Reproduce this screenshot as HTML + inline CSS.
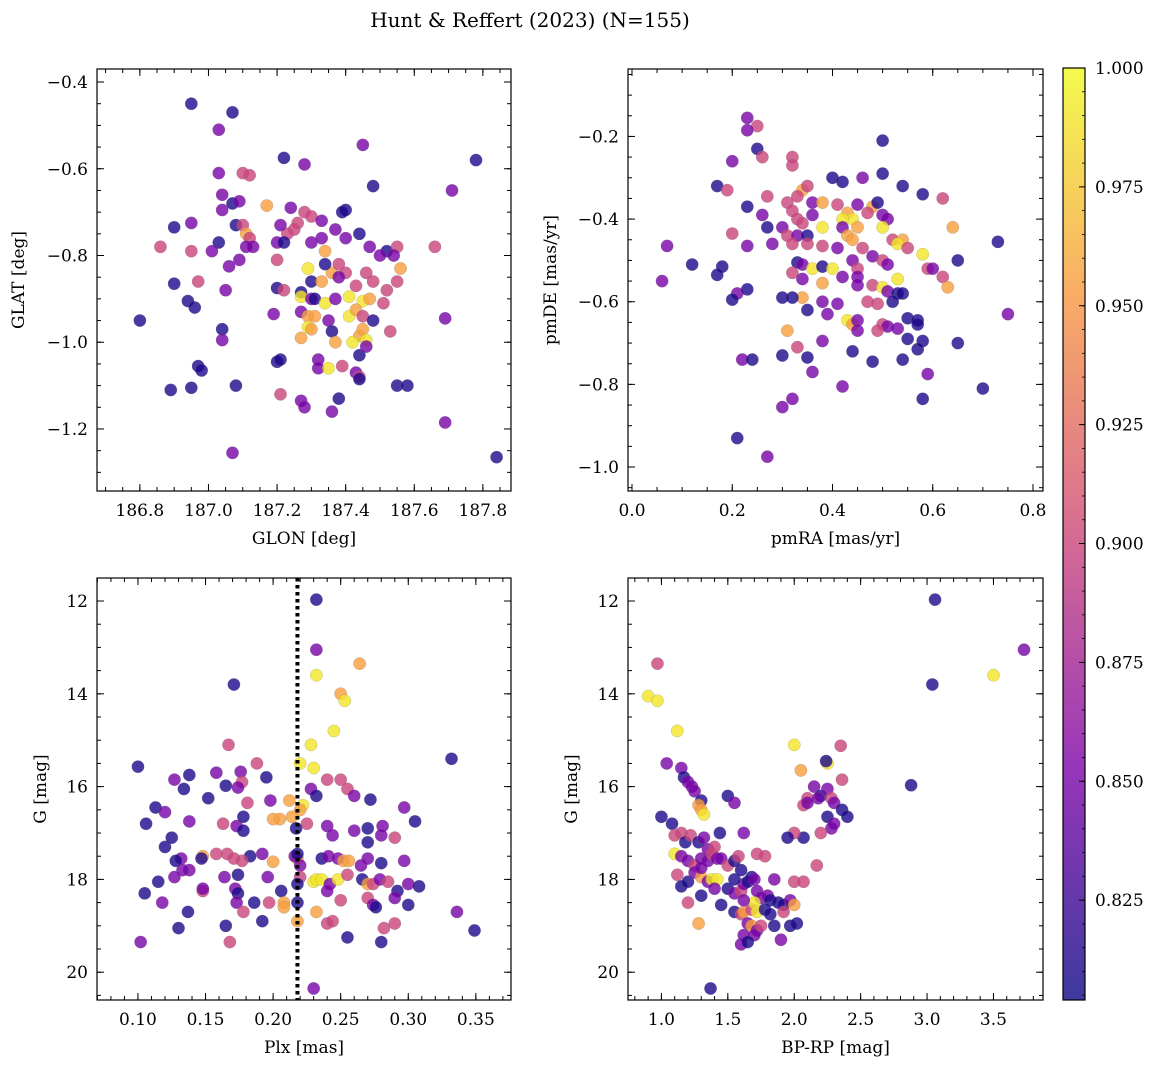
<!DOCTYPE html>
<html><head><meta charset="utf-8">
<style>
html,body{margin:0;padding:0;background:#fff;}
svg{display:block;font-family:"DejaVu Serif","Liberation Serif",serif;}
</style></head>
<body>
<svg id="fig" width="1160" height="1068" viewBox="0 0 1160 1068">
<text x="530" y="27" font-size="20" text-anchor="middle">Hunt &amp; Reffert (2023) (N=155)</text>
</svg>
<script>
const D=0.81,P=0.85,M=0.9,O=0.955,Y=0.99;
const cbMin=0.804, cbMax=1.0;
const cbTicks=[0.825,0.850,0.875,0.900,0.925,0.950,0.975,1.000];
const glonGlat=[[186.95,-0.45,D],[187.07,-0.47,D],[187.03,-0.51,P],[187.45,-0.545,P],[187.22,-0.575,D],[187.28,-0.59,P],[187.78,-0.58,D],[187.03,-0.61,P],[187.1,-0.61,M],[187.12,-0.615,M],[187.48,-0.64,D],[187.71,-0.65,P],[187.04,-0.66,P],[187.04,-0.695,P],[187.07,-0.68,D],[187.09,-0.675,P],[186.95,-0.725,P],[186.9,-0.735,D],[187.08,-0.73,D],[187.1,-0.73,M],[187.17,-0.685,O],[187.24,-0.69,P],[187.28,-0.7,M],[187.3,-0.71,M],[187.33,-0.72,P],[187.4,-0.695,D],[187.39,-0.7,D],[187.26,-0.725,M],[187.25,-0.74,M],[187.23,-0.75,M],[187.21,-0.73,P],[187.2,-0.77,P],[187.22,-0.77,D],[187.11,-0.75,O],[187.12,-0.76,M],[187.11,-0.78,P],[187.13,-0.78,P],[187.03,-0.77,D],[187.01,-0.79,P],[186.95,-0.79,M],[186.86,-0.78,M],[187.06,-0.825,P],[187.09,-0.81,P],[187.2,-0.81,M],[187.3,-0.77,P],[187.33,-0.76,P],[187.34,-0.79,O],[187.37,-0.74,P],[187.4,-0.76,P],[187.44,-0.75,D],[187.47,-0.78,P],[187.52,-0.79,D],[187.55,-0.78,M],[187.5,-0.8,P],[187.54,-0.8,P],[187.56,-0.83,O],[187.66,-0.78,M],[187.46,-0.84,M],[187.4,-0.84,M],[187.36,-0.84,O],[187.34,-0.82,D],[187.3,-0.86,D],[187.29,-0.83,Y],[187.33,-0.86,O],[187.38,-0.82,M],[187.38,-0.85,P],[187.43,-0.87,M],[187.48,-0.86,M],[187.52,-0.88,M],[187.55,-0.86,M],[186.9,-0.865,D],[186.97,-0.86,M],[187.05,-0.88,P],[187.2,-0.875,D],[187.22,-0.88,M],[187.27,-0.885,D],[187.27,-0.895,Y],[187.3,-0.9,P],[187.31,-0.9,D],[187.34,-0.91,Y],[187.37,-0.9,P],[187.41,-0.895,Y],[187.45,-0.905,Y],[187.47,-0.9,O],[187.51,-0.91,M],[187.19,-0.935,P],[187.27,-0.93,P],[187.29,-0.94,O],[187.31,-0.94,O],[187.35,-0.95,P],[187.41,-0.94,Y],[187.43,-0.925,O],[187.45,-0.94,M],[187.48,-0.95,D],[186.94,-0.905,D],[186.96,-0.92,D],[187.04,-0.97,D],[187.29,-0.965,Y],[187.3,-0.97,O],[187.36,-0.975,D],[187.44,-0.985,O],[187.45,-0.97,O],[187.46,-0.995,Y],[187.27,-0.99,O],[187.37,-1.0,O],[187.42,-1.0,Y],[187.53,-0.975,M],[187.04,-0.995,P],[187.32,-1.04,P],[187.32,-1.06,P],[187.35,-1.06,Y],[187.44,-1.03,D],[187.46,-1.01,P],[187.39,-1.055,M],[187.43,-1.07,P],[187.44,-1.08,M],[187.44,-1.085,D],[187.2,-1.045,D],[187.21,-1.04,D],[186.97,-1.055,D],[186.98,-1.065,D],[186.95,-1.105,D],[186.89,-1.11,D],[187.08,-1.1,D],[187.21,-1.12,M],[187.27,-1.135,P],[187.28,-1.15,P],[187.36,-1.16,P],[187.38,-1.13,D],[187.55,-1.1,D],[187.58,-1.1,D],[187.69,-0.945,P],[187.69,-1.185,P],[186.8,-0.95,D],[187.07,-1.255,P],[187.84,-1.265,D]];
const pmRApmDE=[[0.23,-0.155,P],[0.25,-0.175,M],[0.23,-0.185,P],[0.5,-0.21,D],[0.25,-0.23,D],[0.26,-0.25,M],[0.32,-0.25,M],[0.2,-0.26,P],[0.32,-0.27,M],[0.4,-0.3,D],[0.46,-0.3,P],[0.42,-0.31,D],[0.5,-0.29,D],[0.54,-0.32,D],[0.17,-0.32,D],[0.19,-0.33,M],[0.34,-0.33,O],[0.35,-0.32,M],[0.27,-0.345,M],[0.31,-0.36,M],[0.33,-0.345,M],[0.36,-0.36,P],[0.38,-0.36,O],[0.41,-0.365,M],[0.45,-0.365,P],[0.48,-0.37,O],[0.49,-0.36,D],[0.58,-0.34,D],[0.62,-0.35,M],[0.23,-0.37,D],[0.26,-0.39,P],[0.32,-0.38,M],[0.33,-0.4,M],[0.36,-0.39,P],[0.43,-0.385,O],[0.44,-0.4,Y],[0.42,-0.4,Y],[0.47,-0.385,M],[0.5,-0.39,P],[0.51,-0.4,P],[0.34,-0.41,M],[0.3,-0.42,P],[0.27,-0.42,D],[0.38,-0.42,Y],[0.42,-0.42,P],[0.45,-0.42,O],[0.5,-0.42,Y],[0.64,-0.42,O],[0.2,-0.435,M],[0.31,-0.44,M],[0.33,-0.44,P],[0.35,-0.44,D],[0.43,-0.44,O],[0.44,-0.45,O],[0.52,-0.45,M],[0.54,-0.45,O],[0.53,-0.46,Y],[0.28,-0.46,P],[0.23,-0.465,P],[0.07,-0.465,P],[0.32,-0.46,M],[0.35,-0.46,M],[0.38,-0.465,M],[0.41,-0.47,P],[0.46,-0.47,M],[0.55,-0.47,M],[0.58,-0.485,Y],[0.48,-0.49,P],[0.5,-0.5,M],[0.44,-0.5,P],[0.33,-0.505,D],[0.34,-0.51,P],[0.36,-0.52,Y],[0.38,-0.515,D],[0.4,-0.52,Y],[0.45,-0.52,M],[0.51,-0.51,P],[0.59,-0.52,M],[0.6,-0.52,P],[0.65,-0.5,D],[0.12,-0.51,D],[0.18,-0.515,D],[0.17,-0.535,D],[0.32,-0.53,M],[0.34,-0.545,P],[0.42,-0.54,P],[0.45,-0.54,P],[0.53,-0.545,Y],[0.62,-0.54,M],[0.63,-0.565,O],[0.06,-0.55,P],[0.38,-0.555,O],[0.45,-0.56,P],[0.48,-0.56,M],[0.5,-0.565,Y],[0.51,-0.575,P],[0.53,-0.58,D],[0.54,-0.58,D],[0.21,-0.58,P],[0.23,-0.57,D],[0.34,-0.59,O],[0.3,-0.59,D],[0.32,-0.59,D],[0.38,-0.6,P],[0.41,-0.605,P],[0.47,-0.6,M],[0.49,-0.605,M],[0.52,-0.6,D],[0.2,-0.595,D],[0.35,-0.62,D],[0.39,-0.63,P],[0.43,-0.645,Y],[0.44,-0.655,O],[0.45,-0.645,P],[0.5,-0.655,M],[0.51,-0.66,P],[0.55,-0.64,D],[0.57,-0.645,D],[0.57,-0.655,D],[0.53,-0.665,P],[0.31,-0.67,O],[0.49,-0.67,M],[0.45,-0.67,P],[0.55,-0.69,D],[0.58,-0.695,D],[0.65,-0.7,D],[0.38,-0.695,P],[0.33,-0.71,M],[0.57,-0.715,D],[0.44,-0.72,D],[0.22,-0.74,P],[0.24,-0.74,D],[0.3,-0.73,D],[0.35,-0.735,D],[0.48,-0.745,D],[0.54,-0.74,D],[0.59,-0.775,P],[0.36,-0.77,P],[0.42,-0.805,P],[0.32,-0.835,P],[0.58,-0.835,D],[0.7,-0.81,D],[0.73,-0.455,D],[0.75,-0.63,P],[0.3,-0.855,P],[0.21,-0.93,D],[0.27,-0.975,P]];
const plxG=[[0.232,11.97,D],[0.232,13.05,P],[0.232,13.6,Y],[0.264,13.35,O],[0.25,14.0,O],[0.253,14.15,Y],[0.171,13.8,D],[0.245,14.8,Y],[0.167,15.1,M],[0.228,15.1,Y],[0.22,15.5,Y],[0.23,15.6,Y],[0.1,15.57,D],[0.188,15.5,M],[0.332,15.4,D],[0.138,15.75,D],[0.158,15.7,P],[0.176,15.68,P],[0.177,15.9,M],[0.165,15.98,D],[0.174,16.02,P],[0.127,15.85,P],[0.134,16.05,D],[0.195,15.8,D],[0.24,15.85,M],[0.25,15.85,M],[0.212,16.3,O],[0.228,16.05,P],[0.232,16.2,D],[0.255,16.05,M],[0.26,16.2,P],[0.272,16.28,D],[0.297,16.45,P],[0.113,16.45,D],[0.12,16.55,P],[0.152,16.25,D],[0.181,16.35,M],[0.198,16.3,P],[0.222,16.4,Y],[0.22,16.5,O],[0.214,16.65,O],[0.205,16.7,O],[0.2,16.7,O],[0.225,16.8,M],[0.217,16.9,D],[0.24,16.85,P],[0.106,16.8,D],[0.138,16.75,P],[0.163,16.8,M],[0.173,16.85,P],[0.178,16.95,D],[0.178,16.65,D],[0.244,17.05,P],[0.26,16.95,P],[0.27,16.9,D],[0.281,16.85,P],[0.27,17.2,D],[0.28,17.05,P],[0.29,17.1,M],[0.12,17.3,D],[0.125,17.1,D],[0.158,17.45,M],[0.166,17.45,M],[0.148,17.5,O],[0.132,17.55,P],[0.128,17.6,D],[0.147,17.55,D],[0.171,17.55,M],[0.183,17.5,D],[0.192,17.45,P],[0.177,17.6,M],[0.2,17.62,O],[0.218,17.55,O],[0.216,17.5,P],[0.218,17.45,D],[0.236,17.55,D],[0.241,17.5,P],[0.248,17.55,P],[0.252,17.6,O],[0.256,17.6,O],[0.265,17.7,P],[0.27,17.55,P],[0.28,17.65,D],[0.297,17.6,P],[0.138,17.8,P],[0.133,17.8,P],[0.127,17.95,P],[0.148,18.25,M],[0.164,17.95,P],[0.174,17.9,D],[0.172,18.2,P],[0.174,18.3,D],[0.196,17.95,P],[0.22,17.7,P],[0.22,17.95,M],[0.23,18.05,Y],[0.232,18.0,Y],[0.236,18.0,Y],[0.242,18.1,P],[0.248,18.0,Y],[0.255,17.9,M],[0.266,18.0,D],[0.27,18.1,O],[0.274,18.1,M],[0.279,18.0,P],[0.285,18.05,M],[0.292,18.25,D],[0.3,18.1,P],[0.308,18.15,D],[0.24,18.25,P],[0.218,18.1,D],[0.206,18.25,D],[0.105,18.3,D],[0.115,18.05,D],[0.118,18.5,P],[0.148,18.2,P],[0.173,18.5,P],[0.178,18.7,M],[0.197,18.5,M],[0.208,18.5,O],[0.186,18.5,D],[0.218,18.5,D],[0.25,18.45,M],[0.27,18.4,M],[0.274,18.55,P],[0.276,18.6,D],[0.29,18.4,P],[0.3,18.55,D],[0.137,18.7,D],[0.208,18.6,O],[0.232,18.7,O],[0.24,18.95,M],[0.244,18.9,M],[0.218,18.9,O],[0.192,18.9,D],[0.165,19.0,D],[0.13,19.05,D],[0.29,18.95,M],[0.282,19.05,M],[0.255,19.25,D],[0.28,19.35,D],[0.102,19.35,P],[0.168,19.35,M],[0.336,18.7,P],[0.349,19.1,D],[0.23,20.35,P],[0.305,16.75,D]];
const bprpG=[[3.06,11.97,D],[3.73,13.05,P],[0.97,13.35,M],[3.5,13.6,Y],[0.9,14.05,Y],[0.97,14.15,Y],[3.04,13.8,D],[1.12,14.8,Y],[1.04,15.5,P],[2.0,15.1,Y],[2.35,15.12,M],[2.25,15.5,Y],[2.24,15.45,D],[1.15,15.6,P],[1.17,15.8,D],[1.2,15.9,P],[1.23,16.0,P],[1.25,16.1,P],[1.3,16.3,D],[1.28,16.4,O],[1.3,16.5,O],[1.32,16.6,Y],[1.0,16.65,D],[1.08,16.8,D],[1.5,16.2,D],[1.55,16.35,P],[1.62,17.0,P],[2.05,15.65,O],[2.07,16.4,M],[2.1,16.25,M],[2.15,16.0,P],[2.2,16.2,D],[2.25,16.05,P],[2.28,16.25,M],[2.3,16.35,P],[2.36,15.85,M],[2.18,16.25,P],[2.1,16.35,P],[2.36,16.5,D],[2.4,16.65,D],[2.25,16.65,D],[2.28,16.9,P],[2.3,16.8,P],[2.2,17.0,M],[2.07,17.1,D],[2.0,17.0,M],[1.95,17.1,D],[2.88,15.97,D],[1.1,17.05,M],[1.15,17.0,M],[1.18,17.2,D],[1.22,17.05,M],[1.28,17.2,D],[1.32,17.1,P],[1.35,17.35,P],[1.4,17.3,M],[1.44,17.0,D],[1.1,17.45,Y],[1.15,17.5,P],[1.2,17.6,P],[1.25,17.7,M],[1.3,17.55,P],[1.35,17.6,P],[1.38,17.45,M],[1.42,17.55,P],[1.45,17.55,P],[1.5,17.7,M],[1.55,17.6,D],[1.58,17.5,M],[1.72,17.45,M],[1.78,17.5,M],[2.17,17.7,M],[1.12,17.9,M],[1.15,18.15,D],[1.2,18.05,D],[1.25,17.85,P],[1.3,17.95,O],[1.35,18.05,P],[1.38,18.0,Y],[1.42,18.0,Y],[1.5,18.2,D],[1.55,18.3,P],[1.6,18.25,M],[1.62,18.1,P],[1.65,18.05,D],[1.68,17.95,D],[1.7,18.0,P],[1.72,18.25,P],[1.75,18.4,P],[1.8,18.35,P],[1.82,18.45,D],[1.88,18.5,D],[1.92,18.55,D],[1.97,18.45,P],[2.0,18.05,M],[2.07,18.05,M],[1.2,18.5,M],[1.3,18.35,D],[1.45,18.55,D],[1.55,18.7,D],[1.6,18.75,M],[1.62,18.7,O],[1.68,18.65,M],[1.7,18.5,Y],[1.72,18.7,Y],[1.78,18.65,D],[1.82,18.75,D],[1.92,18.7,M],[2.0,18.55,O],[1.28,18.95,O],[1.65,18.95,P],[1.68,19.0,O],[1.72,19.1,P],[1.7,19.2,P],[1.62,19.2,P],[1.6,19.4,P],[1.65,19.35,D],[1.75,19.0,M],[1.85,19.0,D],[1.9,19.3,P],[1.97,19.0,D],[2.02,18.95,D],[1.37,20.35,D],[1.85,18.0,P],[1.55,18.0,D],[1.6,17.8,D],[1.4,18.2,P],[1.62,18.45,P],[1.3,17.75,P]];
const plxCut=0.218;

const NS="http://www.w3.org/2000/svg";
const svg=document.getElementById('fig');
function el(tag,attrs,parent){const e=document.createElementNS(NS,tag);for(const k in attrs)e.setAttribute(k,attrs[k]);(parent||svg).appendChild(e);return e;}
const stops=[[0,[13,8,135]],[0.25,[126,3,168]],[0.5,[204,71,120]],[0.75,[248,149,64]],[1,[240,249,33]]];
function plasma(t){t=Math.max(0,Math.min(1,t));for(let i=0;i<4;i++){const a=stops[i],b=stops[i+1];if(t<=b[0]){const f=(t-a[0])/(b[0]-a[0]);return 'rgb('+a[1].map((v,j)=>Math.round(v+(b[1][j]-v)*f)).join(',')+')';}}return 'rgb(240,249,33)';}
function cmap(v){return plasma((v-cbMin)/(cbMax-cbMin));}

function panel(cfg){
  const g=el('g',{});
  
  
  const [L,T,R,B]=cfg.box;
  const sx=v=>L+(v-cfg.xd[0])/(cfg.xd[1]-cfg.xd[0])*(R-L);
  const sy=v=>T+(v-cfg.yd[0])/(cfg.yd[1]-cfg.yd[0])*(B-T);
  const pg=el('g',{},g);
  
  
  cfg.data.forEach(d=>{
    const c=el('circle',{cx:sx(d[0]),cy:sy(d[1]),r:6.2,fill:cmap(d[2]),'fill-opacity':0.8,stroke:'#777','stroke-width':0.4,'stroke-opacity':0.5},pg);
    
    
  });
  if(cfg.vline!==undefined){
    const l=el('line',{x1:sx(cfg.vline),x2:sx(cfg.vline),y1:T,y2:B,stroke:'#000','stroke-width':4,'stroke-dasharray':'3.5,3.5'},g);
    
    
  }
  const fr=el('rect',{x:L,y:T,width:R-L,height:B-T,fill:'none',stroke:'#000','stroke-width':1.2},g);
  
  
  const eps=1e-9;
  function ticksX(step,len,labels){
    const lo=Math.min(cfg.xd[0],cfg.xd[1]),hi=Math.max(cfg.xd[0],cfg.xd[1]);
    for(let k=Math.ceil((lo-eps)/step);k*step<=hi+eps;k++){
      const v=k*step,x=sx(v);
      el('line',{x1:x,x2:x,y1:B,y2:B-len,stroke:'#000','stroke-width':1},g);
      el('line',{x1:x,x2:x,y1:T,y2:T+len,stroke:'#000','stroke-width':1},g);
      if(labels){const t=el('text',{x:x,y:B+25,'font-size':17,'text-anchor':'middle'},g);t.textContent=cfg.fx(v);
        }
    }
  }
  function ticksY(step,len,labels){
    const lo=Math.min(cfg.yd[0],cfg.yd[1]),hi=Math.max(cfg.yd[0],cfg.yd[1]);
    for(let k=Math.ceil((lo-eps)/step);k*step<=hi+eps;k++){
      const v=k*step,y=sy(v);
      el('line',{x1:L,x2:L+len,y1:y,y2:y,stroke:'#000','stroke-width':1},g);
      el('line',{x1:R,x2:R-len,y1:y,y2:y,stroke:'#000','stroke-width':1},g);
      if(labels){const t=el('text',{x:L-9,y:y+6,'font-size':17,'text-anchor':'end'},g);t.textContent=cfg.fy(v);
        }
    }
  }
  ticksX(cfg.xmaj,7,true);ticksX(cfg.xmin,4,false);
  ticksY(cfg.ymaj,7,true);ticksY(cfg.ymin,4,false);
  const xl=el('text',{x:(L+R)/2,y:B+53,'font-size':17,'text-anchor':'middle'},g);xl.textContent=cfg.xlabel;
  
  const yx=cfg.ylx,yy=(T+B)/2;
  const yl=el('text',{x:yx,y:yy,'font-size':17,'text-anchor':'middle',transform:`rotate(-90 ${yx} ${yy})`},g);yl.textContent=cfg.ylabel;
  
}
const minus=s=>s.replace('-','\u2212');
panel({name:'glon-glat-panel',box:[97,69,511,491],xd:[186.675,187.882],yd:[-0.37,-1.343],data:glonGlat,
  xmaj:0.2,xmin:0.05,ymaj:0.2,ymin:0.05,fx:v=>v.toFixed(1),fy:v=>minus(v.toFixed(1)),xlabel:'GLON [deg]',ylabel:'GLAT [deg]',ylx:24});
panel({name:'pm-panel',box:[628,69,1043,491],xd:[-0.00798,0.82],yd:[-0.0368,-1.058],data:pmRApmDE,
  xmaj:0.2,xmin:0.05,ymaj:0.2,ymin:0.05,fx:v=>v.toFixed(1),fy:v=>minus(v.toFixed(1)),xlabel:'pmRA [mas/yr]',ylabel:'pmDE [mas/yr]',ylx:556});
panel({name:'plx-g-panel',box:[97,578,511,1000],xd:[0.0697,0.376],yd:[11.504,20.599],data:plxG,vline:plxCut,
  xmaj:0.05,xmin:0.01,ymaj:2,ymin:0.5,fx:v=>v.toFixed(2),fy:v=>v.toFixed(0),xlabel:'Plx [mas]',ylabel:'G [mag]',ylx:46});
panel({name:'cmd-panel',box:[628,578,1043,1000],xd:[0.7485,3.873],yd:[11.504,20.599],data:bprpG,
  xmaj:0.5,xmin:0.1,ymaj:2,ymin:0.5,fx:v=>v.toFixed(1),fy:v=>v.toFixed(0),xlabel:'BP-RP [mag]',ylabel:'G [mag]',ylx:577});

const cb=el('g',{});


const defs=el('defs',{},cb);
const grad=el('linearGradient',{id:'pl',x1:0,y1:1,x2:0,y2:0},defs);
for(let i=0;i<=20;i++){el('stop',{offset:i/20,'stop-color':plasma(i/20),'stop-opacity':0.8},grad);}
const cL=1063,cR=1085,cT=68,cB=1000;
el('rect',{x:cL,y:cT,width:cR-cL,height:cB-cT,fill:'url(#pl)',stroke:'#000','stroke-width':1.2},cb);
const cy=v=>cB-(v-cbMin)/(cbMax-cbMin)*(cB-cT);
cbTicks.forEach(v=>{
  const y=cy(v);
  el('line',{x1:cR,x2:cR-6,y1:y,y2:y,stroke:'#000','stroke-width':1},cb);
  const t=el('text',{x:cR+10,y:y+6,'font-size':17},cb);t.textContent=v.toFixed(3);
  
  
});
for(let v=0.805;v<1.0;v+=0.005){const y=cy(v);el('line',{x1:cR,x2:cR-3,y1:y,y2:y,stroke:'#000','stroke-width':0.8},cb);}
</script>
</body></html>
